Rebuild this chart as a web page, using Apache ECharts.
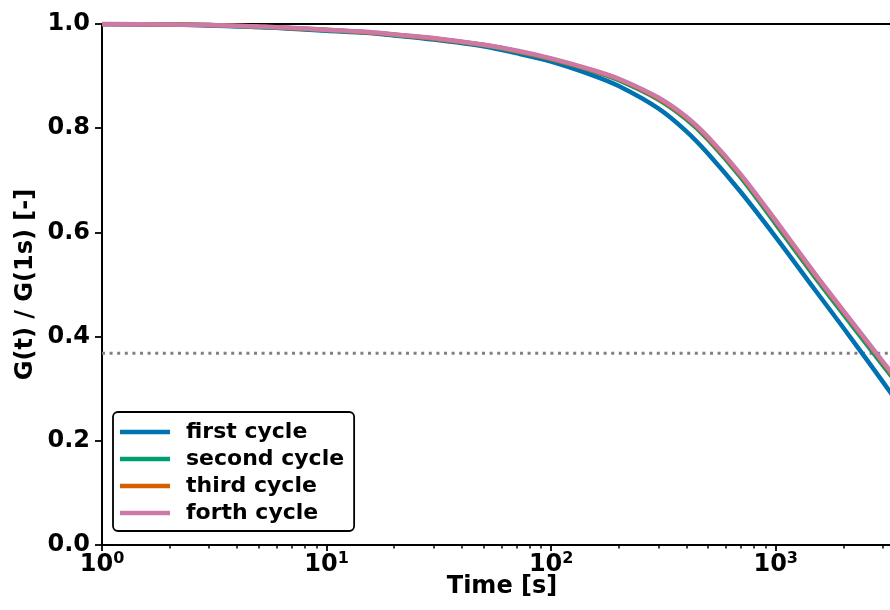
<!DOCTYPE html>
<html>
<head>
<meta charset="utf-8">
<script src="https://cdn.jsdelivr.net/npm/echarts@6/dist/echarts.min.js"></script>
<style>
html,body{margin:0;padding:0;background:#fff;}
#c{width:890px;height:610px;}
</style>
</head>
<body>
<div id="c"></div>
<script>
// ---- data ----
const timeS = [1, 2, 3, 5, 7, 10, 15, 20, 30, 50, 70, 100, 150, 200, 300, 400, 500, 700, 1000, 1500, 2000, 2500, 3000, 3650];
const firstCycle  = [1.000, 0.999, 0.997, 0.994, 0.991, 0.987, 0.983, 0.978, 0.970, 0.957, 0.944, 0.928, 0.903, 0.881, 0.838, 0.794, 0.751, 0.677, 0.591, 0.489, 0.417, 0.360, 0.313, 0.262];
const secondCycle = [1.000, 0.999, 0.998, 0.994, 0.992, 0.988, 0.984, 0.979, 0.972, 0.959, 0.947, 0.932, 0.911, 0.892, 0.855, 0.817, 0.778, 0.705, 0.616, 0.513, 0.443, 0.389, 0.345, 0.298];
const thirdCycle  = [1.000, 0.999, 0.998, 0.995, 0.992, 0.989, 0.984, 0.980, 0.972, 0.960, 0.948, 0.933, 0.912, 0.894, 0.857, 0.820, 0.781, 0.709, 0.621, 0.518, 0.448, 0.394, 0.350, 0.303];
const forthCycle  = [1.000, 0.999, 0.998, 0.995, 0.993, 0.989, 0.985, 0.980, 0.973, 0.960, 0.949, 0.934, 0.913, 0.895, 0.859, 0.822, 0.783, 0.711, 0.623, 0.520, 0.450, 0.396, 0.352, 0.305];
const seriesNames = ['first cycle', 'second cycle', 'third cycle', 'forth cycle'];
const seriesColors = ['#0072B2', '#009E73', '#D55E00', '#CC79A7'];
const thresholdX = [1, 3650];
const thresholdY = [0.368, 0.368];
const xMajorTicks = [1, 10, 100, 1000];
const xMinorTicks = [2,3,4,5,6,7,8,9,20,30,40,50,60,70,80,90,200,300,400,500,600,700,800,900,2000,3000];

const allSeries = [firstCycle, secondCycle, thirdCycle, forthCycle];
const FONT = 'DejaVu Sans';
const X_MIN = thresholdX[0], X_MAX = thresholdX[1];

const chart = echarts.init(document.getElementById('c'), null, {renderer: 'canvas'});

const gridBox = {left: 102, top: 24, width: 800, height: 521, containLabel: false, outerBoundsMode: 'none'};

const series = [{
  name: 'threshold',
  type: 'line',
  xAxisIndex: 0, yAxisIndex: 0,
  data: thresholdX.map((x, i) => [x, thresholdY[i]]),
  showSymbol: false,
  silent: true,
  lineStyle: {color: '#808080', width: 3, type: [3, 4.6]}
}];
allSeries.forEach((vals, k) => {
  series.push({
    name: seriesNames[k],
    type: 'line',
    xAxisIndex: 0, yAxisIndex: 0,
    data: timeS.map((t, i) => [t, vals[i]]),
    showSymbol: false,
    smooth: 0.3,
    color: seriesColors[k],
    lineStyle: {color: seriesColors[k], width: 4.5}
  });
});

chart.setOption({
  animation: false,
  backgroundColor: '#fff',
  textStyle: {fontFamily: FONT},
  grid: [
    Object.assign({}, gridBox),
    Object.assign({}, gridBox)
  ],
  legend: {
    data: seriesNames.map(n => ({name: n, icon: 'rect'})),
    orient: 'vertical',
    left: 113, top: 412,
    itemWidth: 50, itemHeight: 4.5,
    itemGap: 5,
    padding: [9, 10, 7, 7],
    borderColor: '#000', borderWidth: 1.8, borderRadius: 5,
    backgroundColor: '#fff',
    textStyle: {fontFamily: FONT, fontWeight: 'bold', fontSize: 22, lineHeight: 22, color: '#000', padding: [0, 0, 0, 11]}
  },
  xAxis: [{
    type: 'log', gridIndex: 0, position: 'bottom',
    min: X_MIN, max: X_MAX, logBase: 10,
    name: 'Time [s]', nameLocation: 'middle', nameGap: 30, nameMoveOverlap: false,
    nameTextStyle: {fontFamily: FONT, fontWeight: 'bold', fontSize: 24, color: '#000'},
    axisLine: {show: true, lineStyle: {color: '#000', width: 2}},
    axisTick: {show: true, customValues: xMajorTicks, length: 6, lineStyle: {color: '#000', width: 1.8}},
    axisLabel: {
      show: true, customValues: xMajorTicks, margin: 6,
      formatter: v => '{b|10}{s|' + Math.round(Math.log10(v)) + '}',
      rich: {
        b: {fontFamily: FONT, fontWeight: 'bold', fontSize: 24, lineHeight: 28, color: '#000'},
        s: {fontFamily: FONT, fontWeight: 'bold', fontSize: 16, lineHeight: 12, verticalAlign: 'top', color: '#000'}
      }
    },
    splitLine: {show: false}, minorTick: {show: false}
  }, {
    type: 'value', gridIndex: 0, position: 'top', min: 0, max: 1,
    axisLine: {show: true, lineStyle: {color: '#000', width: 2}},
    axisTick: {show: false}, axisLabel: {show: false}, splitLine: {show: false}
  }, {
    type: 'log', gridIndex: 1, position: 'bottom',
    min: X_MIN, max: X_MAX, logBase: 10,
    axisLine: {show: false},
    axisTick: {show: true, customValues: xMinorTicks, length: 3.5, lineStyle: {color: '#000', width: 1.5}},
    axisLabel: {show: false}, splitLine: {show: false}
  }],
  yAxis: [{
    type: 'value', gridIndex: 0, min: 0, max: 1, interval: 0.2,
    name: 'G(t) / G(1s) [-]', nameLocation: 'middle', nameGap: 64, nameRotate: 90, nameMoveOverlap: false,
    nameTextStyle: {fontFamily: FONT, fontWeight: 'bold', fontSize: 24, color: '#000'},
    axisLine: {show: true, lineStyle: {color: '#000', width: 2}},
    axisTick: {show: true, length: 7, lineStyle: {color: '#000', width: 1.8}},
    axisLabel: {show: true, margin: 12, formatter: v => v.toFixed(1),
      fontFamily: FONT, fontWeight: 'bold', fontSize: 24, color: '#000'},
    splitLine: {show: false}
  }, {
    type: 'value', gridIndex: 1, min: 0, max: 1, show: false
  }],
  series: series
});
</script>
</body>
</html>
